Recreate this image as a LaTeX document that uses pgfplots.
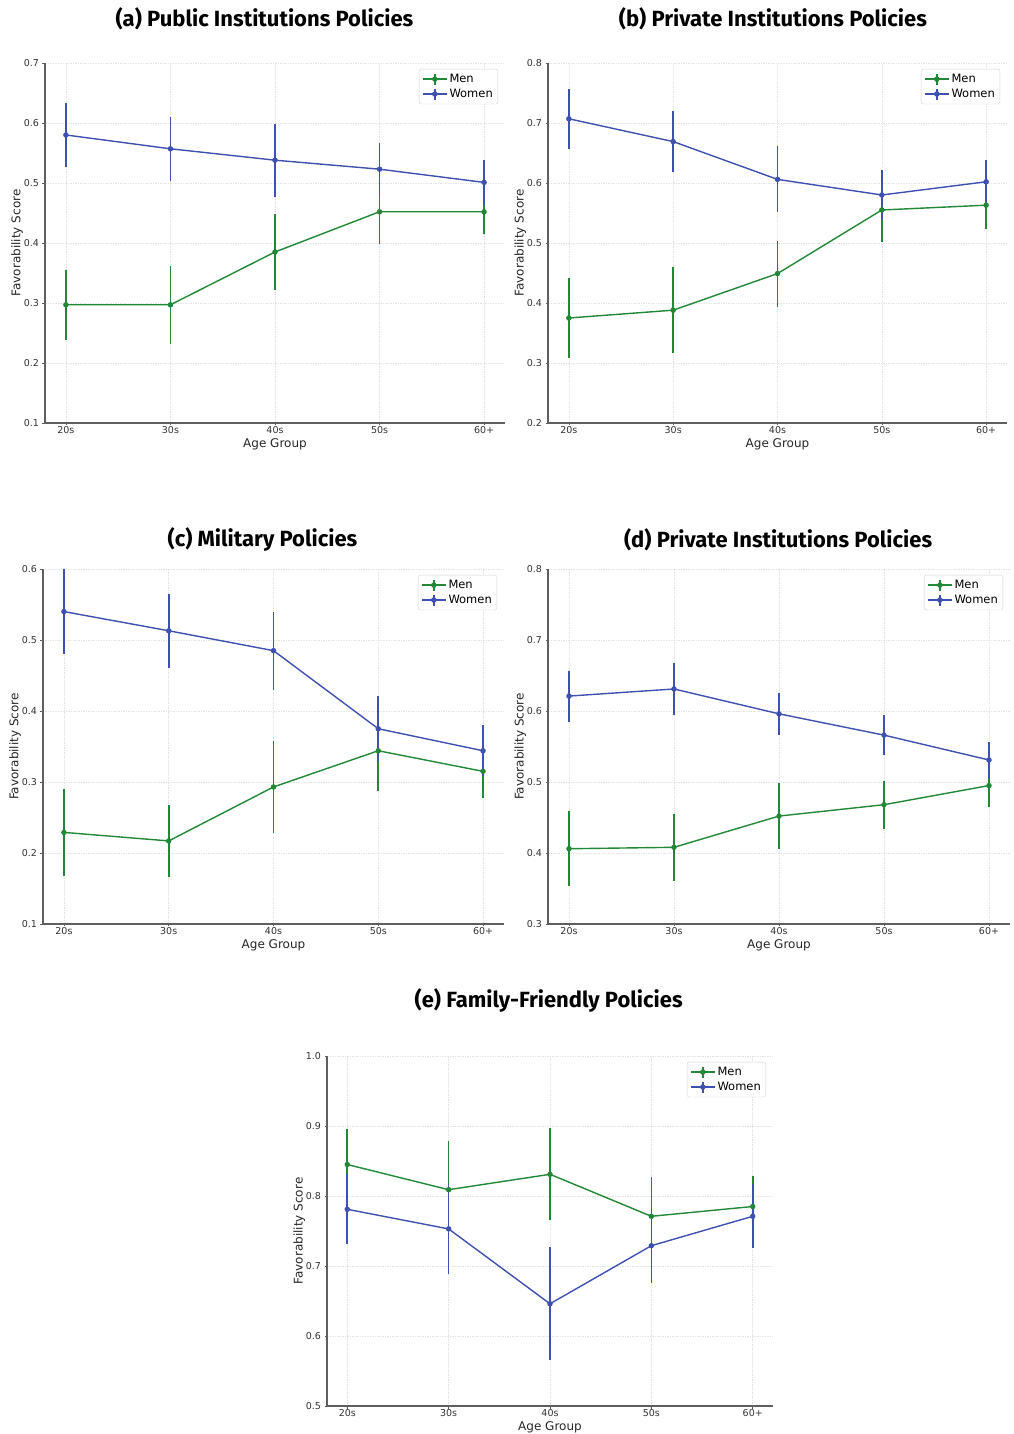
\documentclass[border=0pt]{standalone}
\usepackage{pgfplots}
\pgfplotsset{compat=1.18}
\usepackage{fontspec}
\setmainfont{DejaVu Sans}
\newfontfamily\titlefont{Fira Sans}
\definecolor{mgreen}{RGB}{34,135,55}
\definecolor{wblue}{RGB}{62,80,176}
\definecolor{spine}{RGB}{95,95,95}

\pgfplotsset{
  panel/.style={
    scale only axis,
    axis x line*=bottom, axis y line*=left,
    axis line style={spine, line width=1.1pt},
    xmin=-0.2, xmax=4.2, xtick={0,...,4}, xticklabels={20s,30s,40s,50s,60+},
    ytick distance=0.1,
    grid=major, major grid style={gray!22, line width=0.6pt, dash pattern=on 1.5pt off 1pt},
    tick style={spine, line width=0.6pt}, major tick length=2.5pt, tick align=outside,
    ticklabel style={font=\fontsize{9.5}{11}\selectfont, text=black!80},
    xticklabel style={inner sep=1pt},
    yticklabel style={/pgf/number format/fixed, /pgf/number format/precision=1, /pgf/number format/fixed zerofill},
    /pgf/number format/assume math mode=true,
    xlabel={Age Group}, ylabel={Favorability Score},
    label style={font=\fontsize{12}{14}\selectfont, text=black!85},
    xlabel style={yshift=0pt},
    ylabel style={yshift=-6pt},
    legend style={at={(1,1)}, anchor=north east, xshift=-7pt, yshift=-6pt,
      draw=gray!35, rounded corners=2pt, font=\fontsize{11.5}{13}\selectfont,
      cells={anchor=west}, row sep=1pt, inner xsep=3pt, inner ysep=3pt},
    title style={font=\titlefont\bfseries\fontsize{22}{25}\selectfont, anchor=center},
  },
  menstyle/.style={color=mgreen, line width=1.4pt, mark=*, mark size=2pt,
    mark options={solid, fill=mgreen, draw=mgreen},
    legend image code/.code={
      \draw[mgreen, line width=1.4pt] (0pt,0pt) -- (24pt,0pt);
      \draw[mgreen, line width=1.4pt] (12pt,-5.5pt) -- (12pt,5.5pt);
      \fill[mgreen] (12pt,0pt) circle (2pt);},
    error bars/.cd, y dir=both, y explicit, error mark=none,
    error bar style={color=mgreen, line width=1.6pt, solid}},
  womenstyle/.style={color=wblue, line width=1.4pt, mark=*, mark size=2pt,
    mark options={solid, fill=wblue, draw=wblue},
    legend image code/.code={
      \draw[wblue, line width=1.4pt] (0pt,0pt) -- (24pt,0pt);
      \draw[wblue, line width=1.4pt] (12pt,-5.5pt) -- (12pt,5.5pt);
      \fill[wblue] (12pt,0pt) circle (2pt);},
    error bars/.cd, y dir=both, y explicit, error mark=none,
    error bar style={color=wblue, line width=1.6pt, solid}},
}

\begin{document}
\begin{tikzpicture}[x=1pt,y=1pt]
\path[use as bounding box] (0,0) rectangle (1013,1434);

% (a)
\begin{axis}[panel, at={(45pt,1011pt)}, anchor=south west, width=460pt, height=360pt,
  ymin=0.1, ymax=0.7,
  title={(a) Public Institutions Policies},
  title style={at={(axis description cs:0.477,1)}, yshift=38pt}]
\addplot[menstyle] coordinates {(0,0.297) +- (0,0.058) (1,0.297) +- (0,0.065) (2,0.385) +- (0,0.063) (3,0.452) +- (0,0.053) (4,0.452) +- (0,0.037)};
\addlegendentry{Men}
\addplot[womenstyle] coordinates {(0,0.580) +- (0,0.053) (1,0.557) +- (0,0.053) (2,0.538) +- (0,0.061) (3,0.523) +- (0,0.044) (4,0.501) +- (0,0.037)};
\addlegendentry{Women}
\end{axis}

% (b)
\begin{axis}[panel, at={(548pt,1011pt)}, anchor=south west, width=459pt, height=360pt,
  ymin=0.2, ymax=0.8,
  title={(b) Private Institutions Policies},
  title style={at={(axis description cs:0.49,1)}, yshift=38pt}]
\addplot[menstyle] coordinates {(0,0.375) +- (0,0.066) (1,0.388) +- (0,0.072) (2,0.449) +- (0,0.055) (3,0.555) +- (0,0.053) (4,0.563) +- (0,0.039)};
\addlegendentry{Men}
\addplot[womenstyle] coordinates {(0,0.707) +- (0,0.050) (1,0.669) +- (0,0.051) (2,0.606) +- (0,0.055) (3,0.580) +- (0,0.041) (4,0.602) +- (0,0.037)};
\addlegendentry{Women}
\end{axis}

% (c)
\begin{axis}[panel, at={(43pt,510pt)}, anchor=south west, width=461pt, height=355pt,
  ymin=0.1, ymax=0.6,
  title={(c) Military Policies},
  title style={at={(axis description cs:0.476,1)}, yshift=23pt}]
\addplot[menstyle] coordinates {(0,0.229) +- (0,0.061) (1,0.217) +- (0,0.051) (2,0.293) +- (0,0.065) (3,0.344) +- (0,0.057) (4,0.315) +- (0,0.038)};
\addlegendentry{Men}
\addplot[womenstyle] coordinates {(0,0.540) +- (0,0.060) (1,0.513) +- (0,0.052) (2,0.485) +- (0,0.055) (3,0.375) +- (0,0.046) (4,0.344) +- (0,0.036)};
\addlegendentry{Women}
\end{axis}

% (d)
\begin{axis}[panel, at={(548pt,510pt)}, anchor=south west, width=462pt, height=355pt,
  ymin=0.3, ymax=0.8,
  title={(d) Private Institutions Policies},
  title style={at={(axis description cs:0.498,1)}, yshift=23pt}]
\addplot[menstyle] coordinates {(0,0.406) +- (0,0.053) (1,0.408) +- (0,0.047) (2,0.452) +- (0,0.047) (3,0.468) +- (0,0.034) (4,0.495) +- (0,0.030)};
\addlegendentry{Men}
\addplot[womenstyle] coordinates {(0,0.621) +- (0,0.036) (1,0.631) +- (0,0.036) (2,0.596) +- (0,0.030) (3,0.566) +- (0,0.028) (4,0.531) +- (0,0.025)};
\addlegendentry{Women}
\end{axis}

% (e)
\begin{axis}[panel, at={(327pt,28pt)}, anchor=south west, width=446pt, height=350pt,
  ymin=0.5, ymax=1.0,
  title={(e) Family-Friendly Policies},
  title style={at={(axis description cs:0.497,1)}, yshift=50pt}]
\addplot[menstyle] coordinates {(0,0.845) +- (0,0.050) (1,0.809) +- (0,0.070) (2,0.831) +- (0,0.066) (3,0.771) +- (0,0.056) (4,0.785) +- (0,0.044)};
\addlegendentry{Men}
\addplot[womenstyle] coordinates {(0,0.781) +- (0,0.050) (1,0.753) +- (0,0.064) (2,0.646) +- (0,0.081) (3,0.729) +- (0,0.054) (4,0.771) +- (0,0.046)};
\addlegendentry{Women}
\end{axis}
\end{tikzpicture}
\end{document}
